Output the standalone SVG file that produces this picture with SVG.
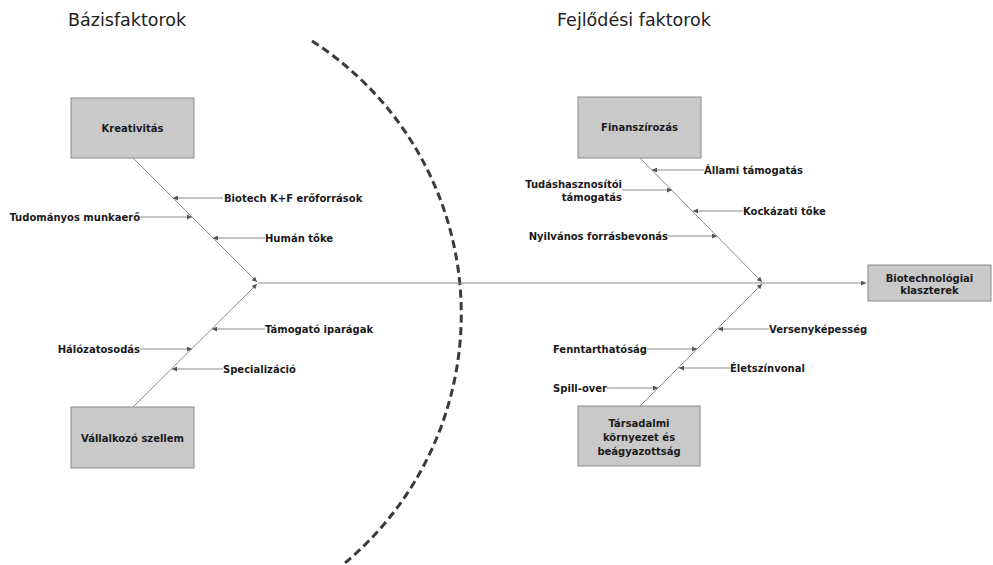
<svg xmlns="http://www.w3.org/2000/svg" width="993" height="565" viewBox="0 0 993 565">
<defs>
<style>
.title{font-family:"DejaVu Sans",Verdana,sans-serif;font-size:17.5px;fill:#222}
.lbl{font-family:"DejaVu Sans",Verdana,sans-serif;font-size:10px;font-weight:bold;fill:#1a1a1a}
.box{fill:#c9c9c9;stroke:#8a8a8a;stroke-width:1}
.btxt{font-family:"DejaVu Sans",Verdana,sans-serif;font-size:10px;font-weight:bold;fill:#1a1a1a;text-anchor:middle}
.bone{stroke:#8c8c8c;stroke-width:1;fill:none}
.arr{stroke:#8c8c8c;stroke-width:1;fill:none;marker-end:url(#ah)}
.end{text-anchor:end}
</style>
<marker id="ah" viewBox="0 0 10 10" refX="10" refY="5" markerWidth="7" markerHeight="5" markerUnits="userSpaceOnUse" orient="auto">
<path d="M0,0 L10,5 L0,10 z" fill="#555"/>
</marker>
</defs>
<rect width="993" height="565" fill="#fff"/>

<text class="title" x="68" y="26">Bázisfaktorok</text>
<text class="title" x="557" y="26">Fejlődési faktorok</text>

<path d="M312,41 A324.5,324.5 0 0 1 345,563" fill="none" stroke="#3a3a3a" stroke-width="3" stroke-dasharray="8,4.5"/>

<g id="connectors">
<line class="arr" x1="133" y1="158" x2="257" y2="282"/>
<line class="arr" x1="133" y1="407" x2="257" y2="284"/>
<line class="arr" x1="258" y1="283" x2="866" y2="283"/>
<line class="arr" x1="640" y1="158" x2="762" y2="282"/>
<line class="arr" x1="640" y1="406" x2="762" y2="284"/>

<line class="arr" x1="223" y1="198" x2="173" y2="198"/>
<line class="arr" x1="140" y1="217" x2="192" y2="217"/>
<line class="arr" x1="265" y1="238" x2="213" y2="238"/>
<line class="arr" x1="265" y1="329" x2="212" y2="329"/>
<line class="arr" x1="140" y1="349" x2="192" y2="349"/>
<line class="arr" x1="223" y1="369" x2="172" y2="369"/>

<line class="arr" x1="704" y1="170" x2="652" y2="170"/>
<line class="arr" x1="622" y1="190" x2="672" y2="190"/>
<line class="arr" x1="743" y1="211" x2="693" y2="211"/>
<line class="arr" x1="668" y1="236" x2="717" y2="236"/>
<line class="arr" x1="769" y1="329" x2="718" y2="329"/>
<line class="arr" x1="647" y1="349" x2="697" y2="349"/>
<line class="arr" x1="730" y1="368" x2="679" y2="368"/>
<line class="arr" x1="607" y1="388" x2="658" y2="388"/>
</g>

<g id="labels">
<text class="lbl" x="224" y="201.5">Biotech K+F erőforrások</text>
<text class="lbl end" x="140" y="220.5">Tudományos munkaerő</text>
<text class="lbl" x="265" y="241.5">Humán tőke</text>
<text class="lbl" x="265" y="332.5">Támogató iparágak</text>
<text class="lbl end" x="140" y="352.5">Hálózatosodás</text>
<text class="lbl" x="223" y="372.5">Specializáció</text>

<text class="lbl" x="704" y="173.5">Állami támogatás</text>
<text class="lbl end" x="622" y="188">Tudáshasznosítói</text>
<text class="lbl end" x="622" y="201">támogatás</text>
<text class="lbl" x="743" y="214.5">Kockázati tőke</text>
<text class="lbl end" x="668" y="239.5">Nyilvános forrásbevonás</text>
<text class="lbl" x="769" y="332.5">Versenyképesség</text>
<text class="lbl end" x="647" y="352.5">Fenntarthatóság</text>
<text class="lbl" x="730" y="371.5">Életszínvonal</text>
<text class="lbl end" x="607" y="391.5">Spill-over</text>
</g>

<g id="kreativitas">
<rect class="box" x="71" y="98" width="123" height="60"/>
<text class="btxt" x="132.5" y="131.5">Kreativitás</text>
</g>

<g id="vallalkozo">
<rect class="box" x="71" y="407" width="123" height="61"/>
<text class="btxt" x="132.5" y="441.5">Vállalkozó szellem</text>
</g>

<g id="finanszirozas">
<rect class="box" x="578" y="97" width="123" height="61"/>
<text class="btxt" x="639.5" y="131">Finanszírozás</text>
</g>

<g id="tarsadalmi">
<rect class="box" x="578" y="406" width="122" height="60"/>
<text class="btxt" x="639" y="427">Társadalmi</text>
<text class="btxt" x="639" y="441">környezet és</text>
<text class="btxt" x="639" y="455">beágyazottság</text>
</g>

<g id="biotech">
<rect class="box" x="868" y="265" width="123" height="36"/>
<text class="btxt" x="929.5" y="281.5">Biotechnológiai</text>
<text class="btxt" x="929.5" y="294">klaszterek</text>
</g>
</svg>
